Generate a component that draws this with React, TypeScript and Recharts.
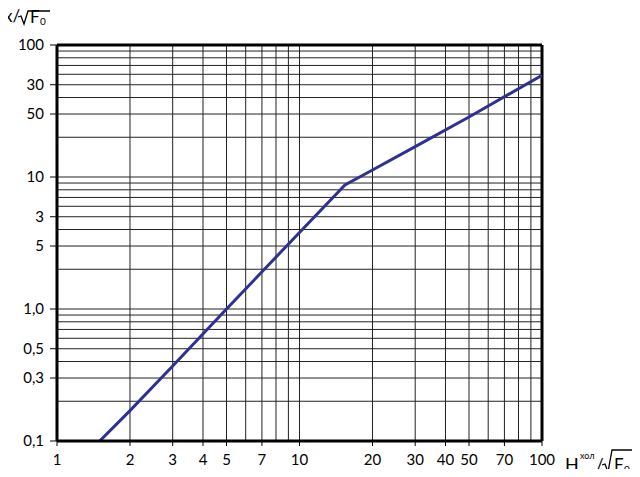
import { LineChart, Line, XAxis, YAxis, ReferenceLine } from 'recharts';

// values (log-log)
const ratioH = [1.5, 2, 3, 5, 10, 15.4, 20, 30, 50, 100];
const ratioX = [0.1, 0.17, 0.37, 1.0, 3.8, 8.7, 11.3, 17.0, 28.5, 59];

const xTicks = [1, 2, 3, 4, 5, 7, 10, 20, 30, 40, 50, 70, 100];
const yTicks = [0.1, 0.3, 0.5, 1, 3, 5, 10, 30, 50, 100];
// labels as printed on the original figure
const yTickLabels: Record<number, string> = {
  0.1: '0,1', 0.3: '0,3', 0.5: '0,5', 1: '1,0', 3: '5', 5: '3', 10: '10', 30: '50', 50: '30', 100: '100',
};

const xGrid = [2, 3, 4, 5, 6, 7, 8, 9, 10, 20, 30, 40, 50, 60, 70, 80, 90];
const yGrid = [0.2, 0.3, 0.4, 0.5, 0.6, 0.7, 0.8, 0.9, 1, 2, 3, 4, 5, 6, 7, 8, 9, 10, 20, 30, 40, 50, 60, 70, 80, 90];

const data = ratioH.map((h, i) => ({ h, x: ratioX[i] }));

const FONT = 'Lato, "DejaVu Sans", sans-serif';
const tickStyle = { fill: '#000', fontSize: 15, fontFamily: FONT };

export default function App() {
  return (
    <div style={{ position: 'relative', width: 640, height: 477, margin: -8, background: '#fff', fontFamily: FONT }}>
      <LineChart width={640} height={477} data={data} margin={{ top: 45, right: 98, bottom: 6, left: 7 }}>
        <XAxis
          dataKey="h"
          type="number"
          scale="log"
          domain={[1, 100]}
          ticks={xTicks}
          allowDataOverflow
          interval={0}
          axisLine={{ stroke: '#000', strokeWidth: 3 }}
          tickLine={{ stroke: '#000' }}
          tickSize={5}
          tickMargin={8}
          height={30}
          tick={tickStyle}
        />
        <YAxis
          type="number"
          scale="log"
          domain={[0.1, 100]}
          ticks={yTicks}
          allowDataOverflow
          interval={0}
          width={50}
          axisLine={{ stroke: '#000', strokeWidth: 3 }}
          tickLine={{ stroke: '#000' }}
          tickSize={7}
          tickMargin={6}
          tickFormatter={(v: number) => yTickLabels[v] ?? ''}
          tick={tickStyle}
        />
        {xGrid.map((v) => (
          <ReferenceLine key={'vx' + v} x={v} stroke="#222" strokeWidth={1} />
        ))}
        {yGrid.map((v) => (
          <ReferenceLine key={'hy' + v} y={v} stroke="#222" strokeWidth={1} />
        ))}
        <ReferenceLine y={100} stroke="#000" strokeWidth={3} />
        <ReferenceLine x={100} stroke="#000" strokeWidth={3} />
        <Line
          dataKey="x"
          type="linear"
          stroke="#2e3192"
          strokeWidth={3}
          dot={false}
          isAnimationActive={false}
        />
      </LineChart>
      <svg width={640} height={477} style={{ position: 'absolute', left: 0, top: 0, pointerEvents: 'none' }}>
        <g fontFamily={FONT} fill="#000">
          <text x={4} y={22} fontSize={17}>x/</text>
          <path d="M18 17 L21 16 L24 24 L28 11 L50 11" stroke="#000" strokeWidth={1.3} fill="none" />
          <text x={30} y={23} fontSize={17}>F</text>
          <text x={40} y={25} fontSize={10}>0</text>

          <text x={565} y={471} fontSize={18}>H</text>
          <text x={580} y={459} fontSize={9}>хол</text>
          <text x={596} y={471} fontSize={17}>/</text>
          <path d="M602 465 L605 464 L608 472 L612 450 L636 450" stroke="#000" strokeWidth={1.3} fill="none" />
          <text x={614} y={471} fontSize={17}>F</text>
          <text x={624} y={473} fontSize={10}>0</text>
        </g>
      </svg>
    </div>
  );
}
